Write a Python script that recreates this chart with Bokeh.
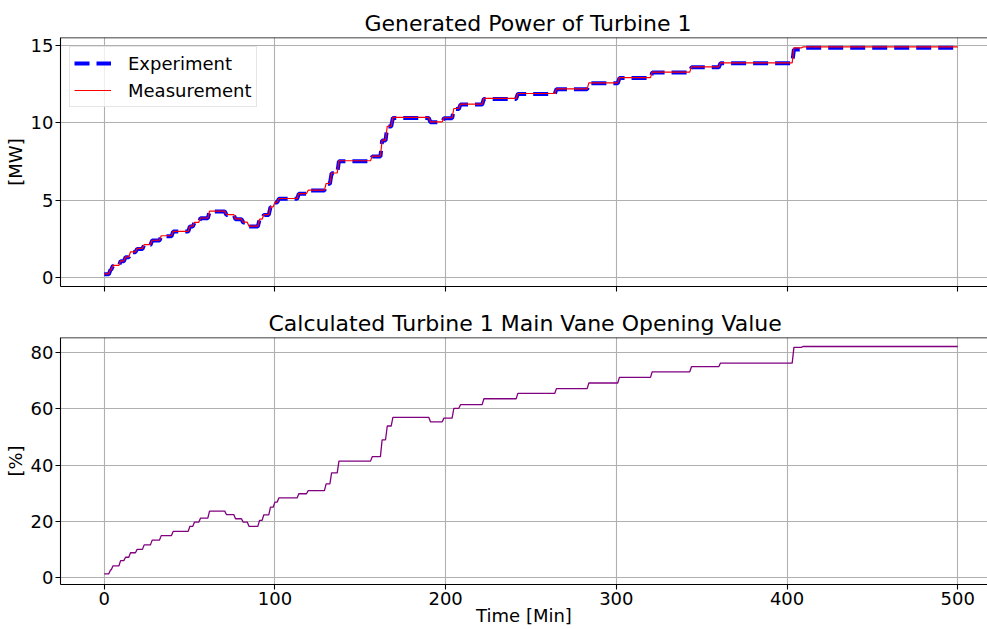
from bokeh.plotting import figure
from bokeh.layouts import column
from bokeh.models import Range1d, Legend, LegendItem, Span, FixedTicker
from bokeh.embed import file_html
from bokeh.resources import INLINE

# ---- data ----
step_start_min = [0, 2.7, 4.1, 8.6, 11.5, 14.4, 18.3, 22.4, 27.1, 32.4, 39.4, 49.2, 51.9,
                  55.4, 60.7, 70.6, 75.9, 80.4, 83.8, 90.0, 92.5, 96.4, 99.0, 101.3, 113.0,
                  118.5, 129.0, 132.2, 136.5, 156.0, 161.8, 164.8, 168.1, 190.1, 198.0,
                  203.8, 207.7, 221.4, 241.3, 263.9, 282.9, 300.8, 320.0, 343.0, 360.0,
                  403.0, 408.3]
end_min = 500

experiment_mw = [0.21, 0.5, 0.75, 1.05, 1.31, 1.64, 1.85, 2.11, 2.39, 2.67, 2.97, 3.3, 3.55,
                 3.83, 4.27, 4.05, 3.77, 3.56, 3.30, 3.75, 4.05, 4.55, 4.85, 5.09, 5.41,
                 5.62, 6.06, 6.74, 7.52, 7.82, 8.86, 9.76, 10.32, 10.04, 10.30, 10.9, 11.18,
                 11.55, 11.87, 12.17, 12.56, 12.90, 13.25, 13.59, 13.85, 14.75, 14.85]

measurement_mw = [0.24, 0.5, 0.78, 1.08, 1.33, 1.66, 1.88, 2.13, 2.41, 2.70, 2.99, 3.32, 3.57,
                  3.85, 4.29, 4.07, 3.79, 3.58, 3.32, 3.77, 4.07, 4.57, 4.87, 5.11, 5.43,
                  5.65, 6.08, 6.76, 7.55, 7.85, 8.88, 9.78, 10.36, 10.07, 10.33, 10.93, 11.21,
                  11.58, 11.90, 12.20, 12.59, 12.93, 13.28, 13.62, 13.88, 14.85, 14.91]

vane_pct = [1.3, 2.7, 4.1, 6.0, 7.2, 8.8, 10.0, 11.6, 13.3, 14.9, 16.4, 18.2, 19.7, 21.1,
            23.6, 22.4, 20.9, 19.7, 18.2, 20.3, 22.3, 25.0, 26.8, 28.3, 29.8, 30.9, 33.3,
            37.2, 41.4, 43.0, 49.0, 53.9, 57.0, 55.4, 56.7, 60.2, 61.5, 63.6, 65.5, 67.2,
            69.2, 71.2, 73.2, 75.0, 76.3, 81.9, 82.2]

x_ticks = [0, 100, 200, 300, 400, 500]
power_ticks = [0, 5, 10, 15]
vane_ticks = [0, 20, 40, 60, 80]


def step_series(starts, levels, end, ramp=1.0):
    xs, ys = [], []
    for i, v in enumerate(levels):
        t0 = starts[i] + (ramp if i > 0 else 0)
        t1 = starts[i + 1] if i + 1 < len(starts) else end
        xs += [t0, t1]
        ys += [v, v]
    return xs, ys


FONT = "DejaVu Sans"
GRID = "#b0b0b0"


def style(p, yticks, ylabel, title_offset):
    p.title.text_font = FONT
    p.title.text_font_size = "22px"
    p.title.text_font_style = "normal"
    p.title.text_color = "black"
    p.title.align = "left"
    p.title.offset = title_offset
    p.title.standoff = 4
    p.outline_line_color = None
    p.background_fill_color = "white"
    for ax in p.axis:
        ax.axis_line_color = "black"
        ax.axis_line_width = 1.1
        ax.major_tick_line_color = "black"
        ax.major_tick_line_width = 1.1
        ax.major_tick_out = 5
        ax.major_tick_in = 0
        ax.minor_tick_line_color = None
        ax.major_label_text_font = FONT
        ax.major_label_text_font_size = "18px"
        ax.major_label_text_color = "black"
        ax.axis_label_text_font = FONT
        ax.axis_label_text_font_size = "18px"
        ax.axis_label_text_font_style = "normal"
        ax.axis_label_text_color = "black"
    p.yaxis.ticker = FixedTicker(ticks=yticks)
    p.yaxis.axis_label = ylabel
    p.yaxis.axis_label_standoff = 2
    p.yaxis.major_label_standoff = 2
    p.xgrid.ticker = FixedTicker(ticks=x_ticks)
    for g in p.grid:
        g.grid_line_color = GRID
        g.grid_line_width = 1.1
    p.add_layout(Span(location=p.y_range.end, dimension="width", line_color="black",
                      line_width=1.5))


xr = Range1d(-25.6, 517.4)

# ---- top panel ----
p1 = figure(width=987, height=292, x_range=xr, y_range=Range1d(-0.58, 15.52),
            output_backend="svg", toolbar_location=None,
            min_border_left=60, min_border_right=0, min_border_top=37, min_border_bottom=6,
            title="Generated Power of Turbine 1")
style(p1, power_ticks, "[MW]", 304)
# shared x axis: tick marks only (no labels) on the upper panel
p1.xaxis.ticker = FixedTicker(ticks=[], minor_ticks=x_ticks)
p1.xaxis.minor_tick_line_color = "black"
p1.xaxis.minor_tick_line_width = 1.1
p1.xaxis.minor_tick_out = 5
p1.xaxis.minor_tick_in = 0
p1.xaxis.major_label_standoff = 0

ex, ey = step_series(step_start_min, experiment_mw, end_min)
mx, my = step_series(step_start_min, measurement_mw, end_min)
r_exp = p1.line(ex, ey, line_color="blue", line_width=4, line_dash="15 7")
r_mea = p1.line(mx, my, line_color="red", line_width=1.2)

legend = Legend(items=[LegendItem(label="Experiment", renderers=[r_exp]),
                       LegendItem(label="Measurement", renderers=[r_mea])],
                location="top_left")
legend.label_text_font = FONT
legend.label_text_font_size = "18px"
legend.label_text_color = "black"
legend.border_line_color = "#cccccc"
legend.border_line_width = 1
legend.background_fill_alpha = 0.8
legend.margin = 9
legend.padding = 4
legend.spacing = 3
legend.glyph_width = 37
legend.glyph_height = 24
legend.label_height = 24
legend.label_standoff = 17
p1.add_layout(legend)

# ---- bottom panel ----
p2 = figure(width=987, height=336, x_range=xr, y_range=Range1d(-2.5, 85.4),
            output_backend="svg", toolbar_location=None,
            min_border_left=60, min_border_right=0, min_border_top=45, min_border_bottom=44,
            title="Calculated Turbine 1 Main Vane Opening Value")
style(p2, vane_ticks, "[%]", 208)
p2.xaxis.ticker = FixedTicker(ticks=x_ticks)
p2.xaxis.axis_label = "Time [Min]"
p2.xaxis.axis_label_standoff = -3
p2.xaxis.major_label_standoff = 2

vx, vy = step_series(step_start_min, vane_pct, end_min)
p2.line(vx, vy, line_color="purple", line_width=1.3)

layout = column(p1, p2)
open("out.html", "w").write(file_html(layout, INLINE))
